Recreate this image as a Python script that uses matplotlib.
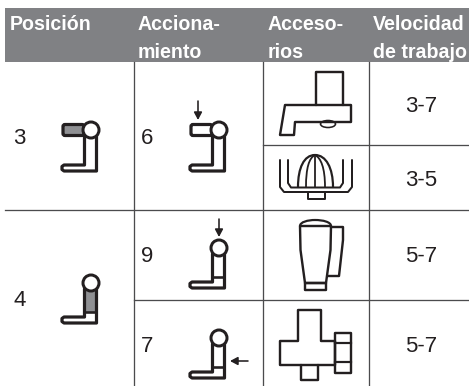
import matplotlib
matplotlib.use('Agg')
import matplotlib.pyplot as plt
from matplotlib.patches import Circle, Rectangle, Polygon, Ellipse, FancyBboxPatch
from matplotlib.path import Path
from matplotlib.patches import PathPatch

plt.rcParams['font.family'] = ['Liberation Sans', 'DejaVu Sans']

# table contents
headers = ['Posición', 'Acciona-\nmiento', 'Acceso-\nrios', 'Velocidad\nde trabajo']
positions = ['3', '4']
actions = ['6', '9', '7']
speeds = ['3-7', '3-5', '5-7', '5-7']

GREY = '#808184'
LINE = '#4b4b4d'
INK = '#231f20'
PX = 0.72  # one pixel in points at dpi 100
C4 = [Path.MOVETO] + [Path.CURVE4] * 6

fig = plt.figure(figsize=(4.69, 3.86), dpi=100)
ax = fig.add_axes([0, 0, 1, 1])
ax.set_xlim(0, 469)
ax.set_ylim(386, 0)
ax.axis('off')


def poly(pts, closed=True, lw=2.4, face='none', z=3):
    ax.add_patch(Polygon(pts, closed=closed, fill=face != 'none', facecolor=face,
                         edgecolor=INK, lw=lw * PX, joinstyle='round', capstyle='round', zorder=z))


def curve(verts, codes, lw=2.2, face='none', z=3):
    ax.add_patch(PathPatch(Path(verts, codes), facecolor=face, edgecolor=INK,
                           lw=lw * PX, capstyle='round', zorder=z))


def arrow(x0, y0, x1, y1):
    ax.annotate('', xy=(x1, y1), xytext=(x0, y0),
                arrowprops=dict(arrowstyle='-|>,head_width=0.24,head_length=0.45',
                                lw=1.6 * PX, color=INK, shrinkA=0, shrinkB=0))


def foot(cx, top, bottom):
    # L shaped base shared by the switch icons
    l = cx - 29
    r = cx + 5.5
    poly([(cx - 6.5, top), (cx - 6.5, bottom - 8), (l + 2, bottom - 8), (l, bottom - 6.5), (l, bottom - 3.5),
          (l + 2, bottom - 2), (r, bottom - 2), (r, top)], closed=False, lw=3.2)


def icon_lever_flat(cx, cy, shaded=False):
    face = '#8f9093' if shaded else 'white'
    ax.add_patch(FancyBboxPatch((cx - 28, cy - 5.5), 21, 11, boxstyle='round,pad=0,rounding_size=2',
                                facecolor=face, edgecolor=INK, lw=3.2 * PX, zorder=3))
    foot(cx, cy + 6, cy + 43)
    ax.add_patch(Circle((cx, cy), 8, facecolor='white', edgecolor=INK, lw=3 * PX, zorder=4))


def icon_lever_up(cx, cy, shaded=False):
    if shaded:
        ax.add_patch(Rectangle((cx - 5, cy + 8), 9.5, 21, facecolor='#8f9093', edgecolor='none', zorder=2))
    foot(cx, cy + 6, cy + 42)
    ax.plot([cx - 6.5, cx + 5.5], [cy + 29, cy + 29], color=INK, lw=2.6 * PX, zorder=3, solid_capstyle='butt')
    ax.add_patch(Circle((cx, cy), 8, facecolor='white', edgecolor=INK, lw=3 * PX, zorder=4))


# header band
ax.add_patch(Rectangle((5, 8), 464, 54, facecolor=GREY, edgecolor='none', zorder=1))
for label, x in zip(headers, [10, 138, 268, 373]):
    for j, part in enumerate(label.split('\n')):
        ax.text(x, 30 + j * 27.5, part, color='white', fontweight='bold', fontsize=14.1,
                ha='left', va='baseline', zorder=5)

# grid
for x in [134, 262.6, 368.7]:
    ax.plot([x, x], [62, 386], color=LINE, lw=1.3 * PX, zorder=2)
ax.plot([5, 469], [210, 210], color=LINE, lw=1.3 * PX, zorder=2)
ax.plot([262.6, 469], [145, 145], color=LINE, lw=1.3 * PX, zorder=2)
ax.plot([134, 469], [300, 300], color=LINE, lw=1.3 * PX, zorder=2)

# cell texts
for t, y in zip(positions, [138, 301]):
    ax.text(13, y, t, fontsize=16, color=INK, ha='left', va='center', zorder=5)
for t, y in zip(actions, [138, 256, 346]):
    ax.text(141, y, t, fontsize=16, color=INK, ha='left', va='center', zorder=5)
for t, y in zip(speeds, [106, 180, 256, 346]):
    ax.text(421, y, t, fontsize=16, color=INK, ha='center', va='center', zorder=5)

# switch icons
icon_lever_flat(91, 130, shaded=True)
icon_lever_flat(219, 130)
arrow(198, 101, 198, 120)
icon_lever_up(91, 283, shaded=True)
icon_lever_up(219, 248)
arrow(219, 219, 219, 237)
icon_lever_up(219, 338)
arrow(248, 361, 230, 361)

# food processor
poly([(316, 105), (316, 72), (342.5, 72), (342.5, 105)], closed=False)
poly([(285, 105), (351, 105), (351, 122), (295, 122), (294, 135), (280, 135)])
ax.add_patch(Ellipse((328, 124), 15, 7, facecolor='white', edgecolor=INK, lw=1.6 * PX, zorder=2))

# juicer
poly([(280, 160), (280, 187), (284, 192), (348, 192), (352, 187), (352, 160)], closed=False, lw=2)
poly([(288, 160), (288, 183), (291, 187.5), (340, 187.5), (343, 183), (343, 160)], closed=False, lw=2)
curve([(298, 187), (298, 168), (304, 155), (315, 155), (326, 155), (333, 168), (333, 187)], C4)
curve([(306, 187), (306, 168), (309, 158), (315, 155), (321, 158), (325, 168), (325, 187)], C4, lw=1.8)
ax.plot([315, 315], [155, 187], color=INK, lw=1.8 * PX, zorder=3)
poly([(308, 192), (308, 199), (325, 199), (325, 192)], closed=False, lw=2)

# blender jar
poly([(300, 226), (331, 226), (330.5, 250), (326, 283), (305, 283), (300.5, 250)])
curve([(300, 226), (300, 222), (308, 220), (315, 220), (323, 220), (331, 222), (331, 226)], C4)
poly([(305, 283), (305, 290), (326, 290), (326, 283)])
poly([(331, 227), (343, 227), (343, 240), (339, 276), (328, 276)], closed=False)

# mincer
poly([(298, 341), (298, 310), (321, 310), (321, 341), (335, 341), (335, 365), (280, 365), (280, 341)])
poly([(335, 333), (351, 333), (351, 373), (335, 373)])
ax.plot([335, 351], [343, 343], color=INK, lw=2.2 * PX, zorder=3)
ax.plot([335, 351], [362, 362], color=INK, lw=2.2 * PX, zorder=3)
poly([(301, 365), (301, 380), (318, 380), (318, 365)], closed=False)

fig.savefig('out.png', dpi=100)
